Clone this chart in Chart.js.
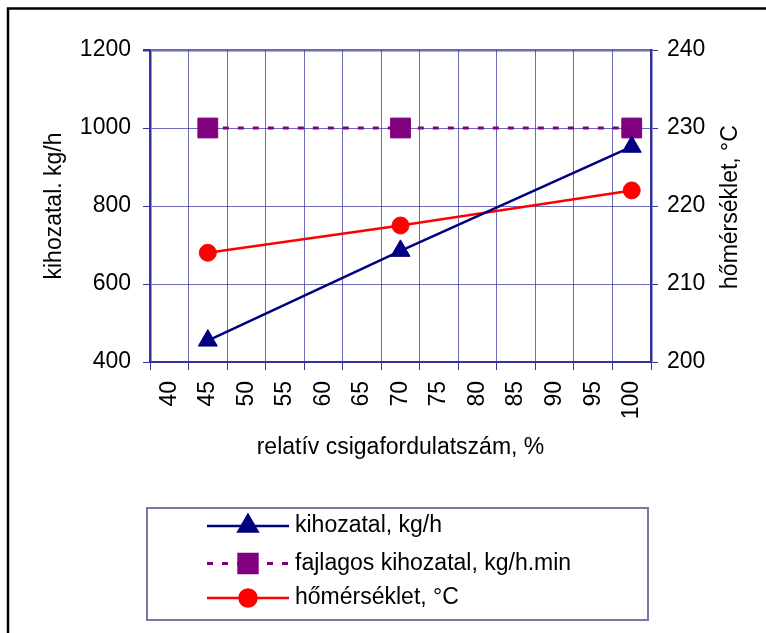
<!DOCTYPE html>
<html>
<head>
<meta charset="utf-8">
<script src="https://cdn.jsdelivr.net/npm/chart.js@4.4.1/dist/chart.umd.min.js"></script>
<style>
  html, body { margin: 0; padding: 0; background: #fff; }
  #wrap { width: 766px; height: 633px; position: relative; }
</style>
</head>
<body>
<div id="wrap"><canvas id="c" width="766" height="633"></canvas></div>
<script>
// ---- data ----
const categories = ['40','45','50','55','60','65','70','75','80','85','90','95','100'];
const xPoints = ['45','70','100'];
const kihozatal = [455, 685, 952];
const fajlagos = [1000, 1000, 1000];
const homerseklet = [214, 217.5, 222];
const leftTicks = { min: 400, max: 1200, step: 200 };
const rightTicks = { min: 200, max: 240, step: 10 };
const seriesLabels = ['kihozatal, kg/h', 'fajlagos kihozatal, kg/h.min', 'hőmérséklet, °C'];
const xTitle = 'relatív csigafordulatszám, %';
const yTitle = 'kihozatal. kg/h';
const y1Title = 'hőmérséklet, °C';

const FONT = "'Liberation Sans', Arial, sans-serif";
const FS = 23;
Chart.defaults.font.family = FONT;
Chart.defaults.font.size = FS;
Chart.defaults.color = '#000';

const AXIS = '#333399';
const GRID = 'rgba(51,51,153,0.72)';

const toXY = arr => arr.map((v, i) => ({ x: xPoints[i], y: v }));

const extras = {
  id: 'extras',
  afterDraw(chart) {
    const ctx = chart.ctx;
    ctx.save();
    // outer frame
    ctx.strokeStyle = '#000';
    ctx.lineWidth = 2.5;
    ctx.strokeRect(8, 8.5, 820, 700);
    // right axis title
    ctx.save();
    ctx.translate(731, (chart.chartArea.top + chart.chartArea.bottom) / 2 + 1);
    ctx.rotate(-Math.PI / 2);
    ctx.font = FS + 'px ' + FONT;
    ctx.fillStyle = '#000';
    ctx.textAlign = 'center';
    ctx.textBaseline = 'middle';
    ctx.fillText(y1Title, 0, 0);
    ctx.restore();
    // legend box
    ctx.strokeStyle = '#7777aa';
    ctx.lineWidth = 2;
    ctx.strokeRect(147, 508, 501, 112);
    const rows = [526, 563.5, 598];
    chart.data.datasets.forEach((ds, i) => {
      const y = rows[i];
      ctx.save();
      ctx.strokeStyle = ds.borderColor;
      ctx.lineWidth = ds.borderWidth;
      ctx.setLineDash(ds.borderDash || []);
      ctx.beginPath();
      ctx.moveTo(207, y);
      ctx.lineTo(289, y);
      ctx.stroke();
      ctx.setLineDash([]);
      ctx.fillStyle = ds.pointBackgroundColor;
      ctx.strokeStyle = ds.pointBorderColor;
      Chart.helpers.drawPoint(ctx, {
        pointStyle: ds.pointStyle, radius: ds.pointStyle === 'rect' ? 13 : ds.pointRadius, rotation: 0, borderWidth: 1
      }, 248, y);
      ctx.restore();
      ctx.font = FS + 'px ' + FONT;
      ctx.fillStyle = '#000';
      ctx.textAlign = 'left';
      ctx.textBaseline = 'middle';
      ctx.fillText(ds.label, 295, y);
    });
    ctx.restore();
  }
};

new Chart(document.getElementById('c'), {
  type: 'line',
  data: {
    labels: categories,
    datasets: [
      {
        label: seriesLabels[0], data: toXY(kihozatal), yAxisID: 'y',
        borderColor: '#000080', borderWidth: 2.5,
        pointStyle: 'triangle', pointRadius: 11,
        pointBackgroundColor: '#000080', pointBorderColor: '#000080', pointBorderWidth: 1
      },
      {
        label: seriesLabels[1], data: toXY(fajlagos), yAxisID: 'y',
        borderColor: '#800080', borderWidth: 3, borderDash: [6, 9],
        pointStyle: 'rect', pointRadius: 14,
        pointBackgroundColor: '#800080', pointBorderColor: '#800080', pointBorderWidth: 1
      },
      {
        label: seriesLabels[2], data: toXY(homerseklet), yAxisID: 'y1',
        borderColor: '#ff0000', borderWidth: 2.5,
        pointStyle: 'circle', pointRadius: 8.5,
        pointBackgroundColor: '#ff0000', pointBorderColor: '#ff0000', pointBorderWidth: 1
      }
    ]
  },
  options: {
    responsive: false,
    animation: false,
    layout: { padding: { left: 37, right: 0, top: 50, bottom: 168 } },
    plugins: { legend: { display: false }, tooltip: { enabled: false } },
    scales: {
      x: {
        type: 'category',
        offset: true,
        grid: { offset: true, color: GRID, lineWidth: 1, tickLength: 8, drawTicks: true, tickColor: AXIS },
        border: { color: AXIS, width: 2 },
        ticks: { minRotation: 90, maxRotation: 90, autoSkip: false, padding: 11, font: { size: FS } },
        title: { display: true, text: xTitle, font: { size: FS }, padding: { top: 4, bottom: 4 } },
        afterFit(s) { s.height = 103; }
      },
      y: {
        position: 'left',
        min: leftTicks.min, max: leftTicks.max,
        ticks: { stepSize: leftTicks.step, padding: 12, font: { size: FS }, callback: v => String(v) },
        grid: {
          color: GRID, tickColor: AXIS, tickLength: 7,
          lineWidth: c => (c.tick && c.tick.value === leftTicks.max ? 2.5 : 1)
        },
        border: { color: AXIS, width: 2.5 },
        title: { display: true, text: yTitle, font: { size: FS }, padding: { top: 4, bottom: 4 } },
        afterFit(s) { s.width = 113; }
      },
      y1: {
        position: 'right',
        min: rightTicks.min, max: rightTicks.max,
        ticks: { stepSize: rightTicks.step, padding: 9, font: { size: FS }, callback: v => String(v) },
        grid: { drawOnChartArea: false, color: AXIS, tickColor: AXIS, tickLength: 7 },
        border: { color: AXIS, width: 2.5 },
        afterFit(s) { s.width = 115; }
      }
    }
  },
  plugins: [extras]
});
</script>
</body>
</html>
